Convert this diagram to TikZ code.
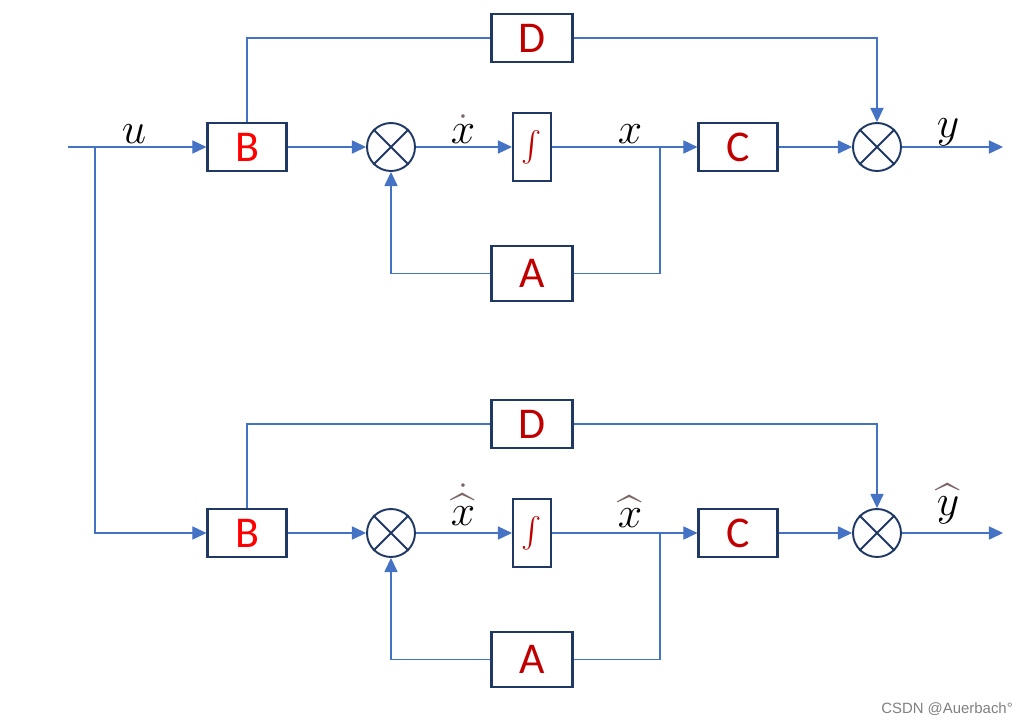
\documentclass[tikz,border=0pt]{standalone}
\usepackage{amsmath}
\usepackage{fontspec}
\usepackage{tikz}
\usepackage{xcolor}
\usetikzlibrary{arrows.meta}
\setsansfont{Carlito}
\newfontfamily\markfont{Liberation Sans}
\definecolor{navy}{RGB}{32,56,100}
\definecolor{wire}{RGB}{68,114,196}
\definecolor{bred}{RGB}{255,0,0}
\definecolor{dred}{RGB}{192,0,0}
\definecolor{acc}{RGB}{125,100,100}

\begin{document}
\begin{tikzpicture}[x=0.02cm, y=-0.02cm,
	blk/.style={draw=navy, line width=1.2pt, fill=white, minimum width=1.58cm, minimum height=0.96cm, inner sep=0pt, font=\sffamily\fontsize{25}{30}\selectfont},
	gain/.style={blk, minimum width=1.62cm, text=dred},
	integ/.style={draw=navy, line width=1.2pt, minimum width=0.76cm, minimum height=1.36cm, inner sep=0pt, text=dred, font=\fontsize{19}{22}\selectfont},
	summ/.style={draw=navy, line width=1.1pt, circle, minimum size=0.96cm, inner sep=0pt},
	wire/.style={draw=wire, line width=0.6pt},
	sig/.style={wire, -{Triangle[length=8pt, width=7.5pt]}},
	lbl/.style={anchor=base, font=\fontsize{24}{28}\selectfont}]
				\useasboundingbox (0,0) rectangle (1032,724);
				\coordinate (in) at (68,147);
				\coordinate (br) at (95,147);
				\foreach \r/\yy/\dx/\xx/\yo/\lh/\dh/\ly in {t/0/{\dot{\color{black}x}}/{x}/{y}/143/143/137, b/386/{\dot{\widehat{\color{black}x}}}/{{\color{acc}\widehat{\color{black}x}}}/{{\color{acc}\widehat{\color{black}y}}}/527/525/515}{
					\node[blk, text=bred] (B\r) at (247,147+\yy) {B};
					\node[summ] (S\r) at (391,147+\yy) {};
					\node[integ] (I\r) at (532,147+\yy) {$\int$};
					\node[blk, text=dred] (C\r) at (738,147+\yy) {C};
					\node[summ] (T\r) at (877,147+\yy) {};
					\node[gain] (D\r) at (532,38+\yy) {D};
					\node[gain, minimum height=1.1cm] (A\r) at (532,273.5+\yy) {A};
					\coordinate (k\r) at (660,147+\yy);
					\coordinate (out\r) at (1003,147+\yy);
					\draw[navy, line width=1.1pt] (S\r.north west) -- (S\r.south east) (S\r.north east) -- (S\r.south west);
					\draw[navy, line width=1.1pt] (T\r.north west) -- (T\r.south east) (T\r.north east) -- (T\r.south west);

					\draw[sig] (B\r.east) -- (S\r.west);
					\draw[sig] (S\r.east) -- (I\r.west);
					\draw[sig] (I\r.east) -- (C\r.west);
					\draw[sig] (C\r.east) -- (T\r.west);
					\draw[sig] (T\r.east) -- (out\r);
					\draw[wire] (B\r.north) |- (D\r.west);
					\draw[sig] (D\r.east) -| (T\r.north);
					\draw[wire] (k\r) |- (A\r.east);
					\draw[sig] (A\r.west) -| (S\r.south);

					\node[lbl] (dx\r) at (463,\dh) {$\color{acc}\dx$};
					\node[lbl] (x\r) at (630,\lh) {$\xx$};
					\node[lbl] (y\r) at (948,\ly) {$\yo$};
				}
				\draw[sig] (in) -- (Bt.west);
				\draw[sig] (br) |- (Bb.west);
				\node[lbl] (u) at (134,143) {$u$};

				\node[anchor=base east, text=gray, font=\markfont\fontsize{8.5}{10}\selectfont] (mark) at (1019,713) {CSDN @Auerbach°};
\end{tikzpicture}
\end{document}
